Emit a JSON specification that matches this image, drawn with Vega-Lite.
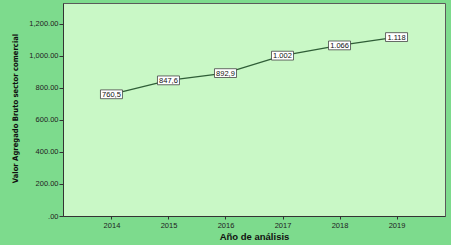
{
  "$schema": "https://vega.github.io/schema/vega-lite/v6.json",
  "width": 382,
  "height": 213,
  "autosize": {"type": "none"},
  "padding": {"left": 63, "top": 3, "right": 6, "bottom": 29},
  "background": "#7ddb8d",
  "config": {
    "view": {"fill": "#c9f8c6", "stroke": "#5a5a5a", "strokeWidth": 1},
    "font": "Liberation Sans"
  },
  "data": {
    "values": [
      {"year": "2014", "value": 760.5, "label": "760,5"},
      {"year": "2015", "value": 847.6, "label": "847,6"},
      {"year": "2016", "value": 892.9, "label": "892,9"},
      {"year": "2017", "value": 1002, "label": "1.002"},
      {"year": "2018", "value": 1066, "label": "1.066"},
      {"year": "2019", "value": 1118, "label": "1.118"}
    ]
  },
  "encoding": {
    "x": {
      "field": "year",
      "type": "ordinal",
      "scale": {"type": "point", "padding": 0.85},
      "axis": {
        "title": "Año de análisis",
        "titleFont": "Liberation Sans",
        "titleFontSize": 9.5,
        "titleFontWeight": "bold",
        "titleColor": "#111",
        "titlePadding": 3,
        "labelFontSize": 7.5,
        "labelColor": "#222",
        "labelAngle": 0,
        "labelPadding": 2,
        "tickSize": 3,
        "tickColor": "#333",
        "domainColor": "#333",
        "grid": false
      }
    },
    "y": {
      "field": "value",
      "type": "quantitative",
      "scale": {"domain": [0, 1331], "nice": false, "zero": true},
      "axis": {
        "title": "Valor Agregado Bruto sector comercial",
        "titleFont": "'DejaVu Sans Condensed', 'Liberation Sans', sans-serif",
        "titleFontSize": 7.6,
        "titleFontWeight": "bold",
        "titleColor": "#111",
        "titleX": -48,
        "titleY": 105,
        "titleAlign": "center",
        "titleBaseline": "middle",
        "values": [0, 200, 400, 600, 800, 1000, 1200],
        "labelExpr": "datum.value == 0 ? '.00' : format(datum.value, ',.2f')",
        "labelFontSize": 7.5,
        "labelColor": "#222",
        "labelPadding": 1,
        "tickSize": 4,
        "tickColor": "#333",
        "domainColor": "#333",
        "grid": false
      }
    }
  },
  "layer": [
    {"mark": {"type": "line", "color": "#2f5e37", "strokeWidth": 1.3}},
    {
      "mark": {
        "type": "point",
        "shape": "M-1,-0.4H1V0.4H-1Z",
        "size": 484,
        "filled": true,
        "fill": "white",
        "stroke": "#444",
        "strokeWidth": 0.8,
        "opacity": 1
      }
    },
    {
      "mark": {"type": "text", "fontSize": 7.5, "color": "#111", "baseline": "middle", "align": "center", "dy": 0.5},
      "encoding": {"text": {"field": "label"}}
    }
  ]
}
